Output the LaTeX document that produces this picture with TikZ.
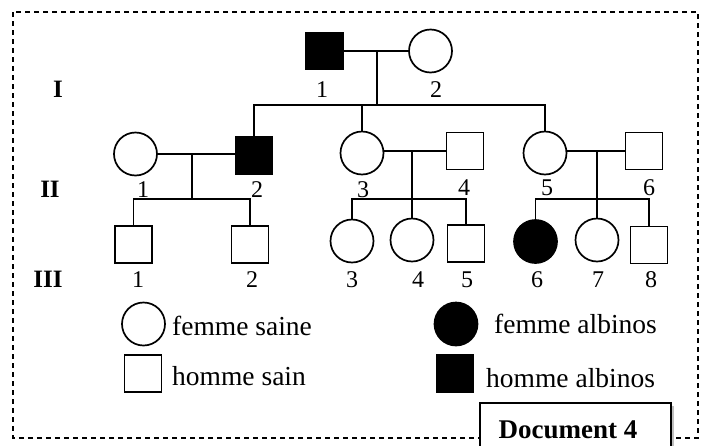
\documentclass[tikz,border=0pt]{standalone}
\usepackage{fontspec}
\setmainfont{Liberation Serif}
\usetikzlibrary{shadows}
\begin{document}
\begin{tikzpicture}[x=1pt,y=-1pt,
  ln/.style={line width=1.8pt},
  sq/.style={draw,line width=1.7pt,rectangle,minimum size=37pt,inner sep=0pt},
  ci/.style={draw,line width=1.7pt,circle,minimum size=43pt,inner sep=0pt},
  aff/.style={fill=black},
  lab/.style={inner sep=0pt,anchor=base,font=\fontsize{24}{26}\selectfont},
  gen/.style={inner sep=0pt,anchor=base,font=\fontsize{25}{27}\selectfont\bfseries},
  leg/.style={inner sep=0pt,anchor=base west,font=\fontsize{27.5}{30}\selectfont}]
\useasboundingbox (0,0) rectangle (702,445);
\fill[white] (0,0) rectangle (702,445);
% frame
\draw[line width=1.6pt,dash pattern=on 5pt off 4pt] (13,12) rectangle (698,438);
% generation labels
\node[gen] (gI) at (58,97) {I};
\node[gen] (gII) at (50,197) {II};
\node[gen] (gIII) at (48,287) {III};
% generation I
\node[sq,aff] (I1) at (324.5,51) {};
\node[ci] (I2) at (430.5,51) {};
\node[lab] (lI1) at (322,97) {1};
\node[lab] (lI2) at (436,97) {2};
\draw[ln] (I1) -- (I2);
\coordinate (mI) at (377,51);
\coordinate (sI) at (377,105);
% generation II
\node[ci] (II1) at (135.5,154) {};
\node[sq,aff] (II2) at (254,155.5) {};
\node[ci] (II3) at (362,153) {};
\node[sq] (II4) at (465,151) {};
\node[ci] (II5) at (545,153) {};
\node[sq] (II6) at (644,151) {};
\draw[ln] (mI) -- (sI);
\draw[ln] (II2.north) |- (sI) -| (II5.north);
\draw[ln] (sI) -| (II3.north);
\node[lab] (lII1) at (143,197) {1};
\node[lab] (lII2) at (257,197) {2};
\node[lab] (lII3) at (363,197) {3};
\node[lab] (lII4) at (464,195) {4};
\node[lab] (lII5) at (547,195) {5};
\node[lab] (lII6) at (649,195) {6};
% marriages II
\draw[ln] (II1.east |- 0,154) -- (II2.west |- 0,154);
\draw[ln] (II3.east |- 0,151) -- (II4.west |- 0,151);
\draw[ln] (II5.east |- 0,151) -- (II6.west |- 0,151);
\coordinate (mA) at (192,154);
\coordinate (sA) at (192,199);
\coordinate (mB) at (412,151);
\coordinate (sB) at (412,199);
\coordinate (mC) at (597,151);
\coordinate (sC) at (597,199);
% generation III
\node[sq] (III1) at (133.5,244.5) {};
\node[sq] (III2) at (250,244.5) {};
\node[ci] (III3) at (352,241) {};
\node[ci] (III4) at (412,240) {};
\node[sq] (III5) at (466,243.5) {};
\node[ci,aff] (III6) at (535.5,241.5) {};
\node[ci] (III7) at (597,240) {};
\node[sq] (III8) at (649,245) {};
\draw[ln] (mA) -- (sA);
\draw[ln] (III1.north) |- (sA) -| (III2.north);
\draw[ln] (mB) -- (III4.north);
\draw[ln] (III3.north) |- (sB) -| (III5.north);
\draw[ln] (mC) -- (III7.north);
\draw[ln] (III6.north) |- (sC) -| (III8.north);
\node[lab] (lIII1) at (138,287) {1};
\node[lab] (lIII2) at (252,287) {2};
\node[lab] (lIII3) at (352,287) {3};
\node[lab] (lIII4) at (418,287) {4};
\node[lab] (lIII5) at (467,287) {5};
\node[lab] (lIII6) at (537,287) {6};
\node[lab] (lIII7) at (598,287) {7};
\node[lab] (lIII8) at (651,287) {8};
% legend
\node[ci] (L1) at (143.5,324) {};
\node[leg] (T1) at (172,335) {femme saine};
\node[sq] (L2) at (143,373.5) {};
\node[leg] (T2) at (172,385) {homme sain};
\node[ci,aff] (L3) at (456,324) {};
\node[leg] (T3) at (494,333) {femme albinos};
\node[sq,aff] (L4) at (455,373.5) {};
\node[leg] (T4) at (486,387) {homme albinos};
% document box
\node[draw,line width=1.6pt,fill=white,rectangle,minimum width=191pt,minimum height=50pt,anchor=north west,
  drop shadow={shadow xshift=3pt,shadow yshift=-3pt,opacity=0.5}] (doc) at (479,402) {};
\node[inner sep=0pt,anchor=base,font=\fontsize{27}{29}\selectfont\bfseries] (docT) at (568,438) {Document 4};
\end{tikzpicture}
\end{document}
